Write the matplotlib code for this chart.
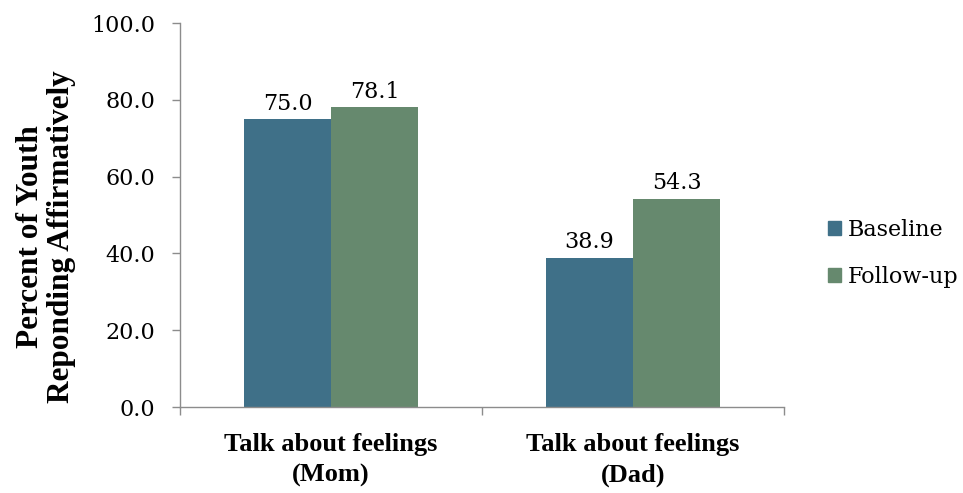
import numpy as np
import matplotlib.pyplot as plt
from matplotlib.patches import Patch

categories = ['Talk about feelings\n(Mom)', 'Talk about feelings\n(Dad)']
baseline = [75.0, 38.9]
followup = [78.1, 54.3]
series_names = ['Baseline', 'Follow-up']
yticks = [0, 20, 40, 60, 80, 100]

c_base = '#3F7088'
c_follow = '#66896E'
spine_c = '#8C8C8C'

plt.rcParams['font.family'] = ['DejaVu Serif']
bold_font = ['Liberation Serif', 'DejaVu Serif']

fig = plt.figure(figsize=(9.63, 4.93), dpi=100)
ax = fig.add_axes([0.1869, 0.1744, 0.6272, 0.7789])

x = np.arange(len(categories))
w = 0.288
b1 = ax.bar(x - w / 2, baseline, w, color=c_base)
b2 = ax.bar(x + w / 2, followup, w, color=c_follow)

for bars, vals in ((b1, baseline), (b2, followup)):
    for r, v in zip(bars, vals):
        ax.text(r.get_x() + r.get_width() / 2, v + 2.4, f'{v:.1f}',
                ha='center', va='baseline', fontsize=16)

ax.set_xlim(-0.5, 1.5)
ax.set_ylim(0, 100)
ax.set_yticks(yticks)
ax.set_yticklabels([f'{t:.1f}' for t in yticks], fontsize=16)

# category labels sit between the boundary ticks
ax.set_xticks([-0.5, 0.5, 1.5])
ax.set_xticklabels([])
ax.set_xticks(x, minor=True)
ax.set_xticklabels(categories, minor=True, fontsize=19, fontweight='bold',
                   family=bold_font, linespacing=1.4)
ax.tick_params(axis='x', which='minor', length=0, pad=19)
ax.tick_params(axis='x', which='major', length=6, width=1, color=spine_c)
ax.tick_params(axis='y', length=6, width=1, color=spine_c, pad=12)

for s in ('top', 'right'):
    ax.spines[s].set_visible(False)
for s in ('left', 'bottom'):
    ax.spines[s].set_color(spine_c)
    ax.spines[s].set_linewidth(1)

fig.text(46 / 963, (493 - 237) / 493, 'Percent of Youth\nReponding Affirmatively',
         rotation=90, ha='center', va='center', fontsize=22.5,
         fontweight='bold', family=bold_font, linespacing=1.1)

handles = [Patch(color=c_base), Patch(color=c_follow)]
fig.legend(handles, series_names, loc='center left',
           bbox_to_anchor=(0.839, 0.486), frameon=False, fontsize=16,
           handlelength=0.6, handleheight=0.6, handletextpad=0.3,
           labelspacing=1.1)

fig.savefig('out.png', dpi=100)
